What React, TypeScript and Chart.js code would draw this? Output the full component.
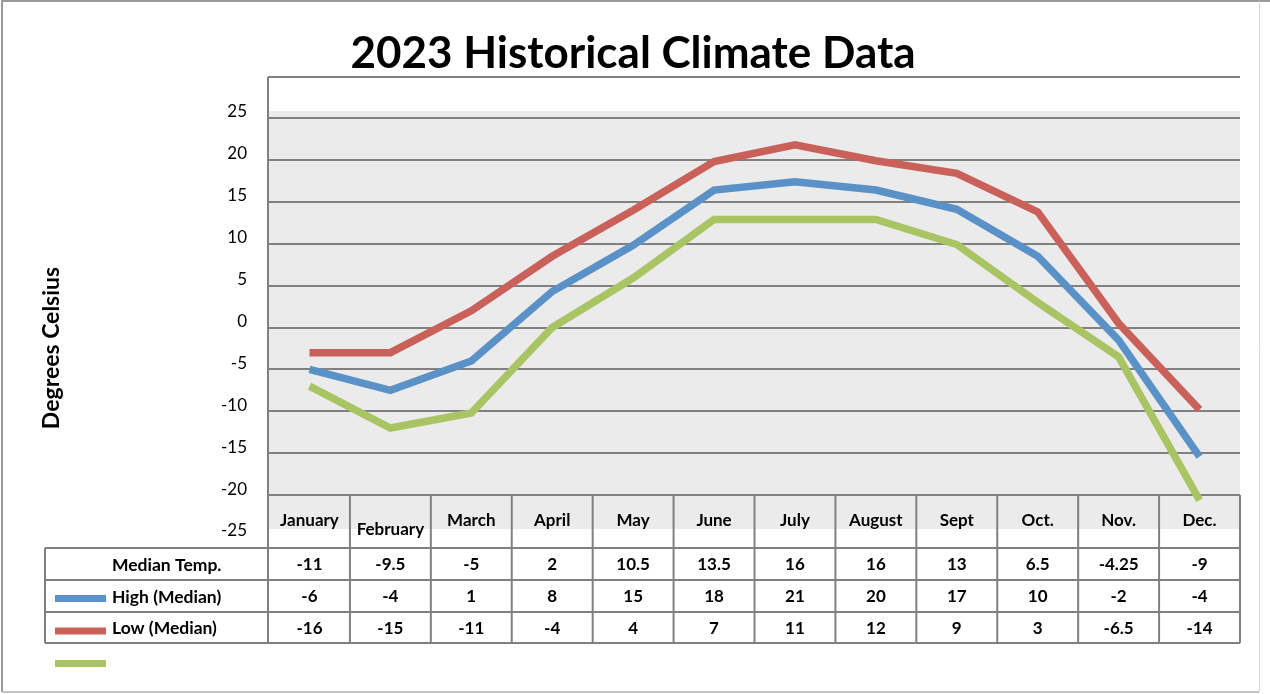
import React, { useEffect, useRef } from "react";
import { Chart, registerables } from "chart.js";

Chart.register(...registerables);

// ---------- data ----------
const MONTHS = ["January", "February", "March", "April", "May", "June", "July", "August", "Sept", "Oct.", "Nov.", "Dec."];

// plotted lines
const BLUE_LINE = [-5, -7.5, -4, 4.3, 9.8, 16.4, 17.4, 16.4, 14.1, 8.5, -1.5, -15.4];
const RED_LINE = [-3, -3, 2, 8.5, 14, 19.8, 21.8, 19.9, 18.4, 13.8, 0.5, -9.8];
const GREEN_LINE = [-7, -12, -10.2, 0, 5.9, 12.9, 12.9, 12.9, 9.9, 3, -3.5, -20.6];

// data table rows
const ROW_LABELS = ["Median Temp.", "High (Median)", "Low (Median)"];
const MEDIAN_TEMP = ["-11", "-9.5", "-5", "2", "10.5", "13.5", "16", "16", "13", "6.5", "-4.25", "-9"];
const HIGH_MEDIAN = ["-6", "-4", "1", "8", "15", "18", "21", "20", "17", "10", "-2", "-4"];
const LOW_MEDIAN = ["-16", "-15", "-11", "-4", "4", "7", "11", "12", "9", "3", "-6.5", "-14"];

const Y_MIN = -25;
const Y_MAX = 25;
const Y_STEP = 5;

const TITLE = "2023 Historical Climate Data";
const Y_TITLE = "Degrees Celsius";

// ---------- styles ----------
const FONT = "Lato, 'Open Sans', sans-serif";
const BLUE = "#5a91c6";
const RED = "#c9615a";
const GREEN = "#a8c463";
const GRID = "#808080";
const PLOT_BG = "#ebebeb";

export default function App() {
  const ref = useRef<HTMLCanvasElement | null>(null);

  useEffect(() => {
    document.body.style.margin = "0";
    const canvas = ref.current;
    if (!canvas) return;

    const decor = {
      id: "decor",
      beforeDraw(chart: any) {
        const ctx = chart.ctx as CanvasRenderingContext2D;
        const W = chart.width;
        const H = chart.height;
        const area = chart.chartArea;
        ctx.save();
        ctx.fillStyle = "#ffffff";
        ctx.fillRect(0, 0, W, H);

        // outer frame
        ctx.lineWidth = 2;
        ctx.strokeStyle = "#9a9a9a";
        ctx.beginPath();
        ctx.moveTo(2, H - 2);
        ctx.lineTo(2, 1);
        ctx.lineTo(W, 1);
        ctx.stroke();
        ctx.strokeStyle = "#c4c4c4";
        ctx.beginPath();
        ctx.moveTo(2, H - 2);
        ctx.lineTo(1259, H - 2);
        ctx.stroke();
        ctx.lineWidth = 1;
        ctx.strokeStyle = "#d8d8d8";
        ctx.beginPath();
        ctx.moveTo(1259.5, 1);
        ctx.lineTo(1259.5, H - 2);
        ctx.stroke();

        // title
        ctx.fillStyle = "#000";
        ctx.font = `bold 44px ${FONT}`;
        ctx.textAlign = "center";
        ctx.textBaseline = "alphabetic";
        ctx.fillText(TITLE, 633, 68);

        // plot background
        ctx.fillStyle = PLOT_BG;
        ctx.fillRect(area.left, 111, area.right - area.left, 529 - 111);

        // top border line of plot
        ctx.strokeStyle = GRID;
        ctx.lineWidth = 2;
        ctx.beginPath();
        ctx.moveTo(area.left - 1, 77);
        ctx.lineTo(area.right, 77);
        ctx.stroke();
        ctx.restore();
      },
      beforeDatasetsDraw(chart: any) {
        const ctx = chart.ctx as CanvasRenderingContext2D;
        const area = chart.chartArea;
        const xs = chart.scales.x;
        const ys = chart.scales.y;
        const n = MONTHS.length;
        const step = (area.right - area.left) / n;
        const headerTop = ys.getPixelForValue(-20);
        const tableTop = 548;
        const rowH = [548, 580, 612, 643];
        const tableLeft = 45;

        ctx.save();
        // white strip under header cells
        ctx.fillStyle = "#fff";
        ctx.fillRect(area.left, 529, area.right - area.left, tableTop - 529);

        ctx.strokeStyle = GRID;
        ctx.lineWidth = 2;
        // vertical axis line
        ctx.beginPath();
        ctx.moveTo(area.left - 1, 77);
        ctx.lineTo(area.left - 1, rowH[3]);
        ctx.stroke();
        // column dividers
        for (let i = 1; i <= n; i++) {
          const x = xs.getPixelForValue(i - 1) + step / 2;
          ctx.beginPath();
          ctx.moveTo(x, headerTop);
          ctx.lineTo(x, rowH[3]);
          ctx.stroke();
        }
        // horizontal table lines
        for (const y of rowH) {
          ctx.beginPath();
          ctx.moveTo(tableLeft, y);
          ctx.lineTo(area.right, y);
          ctx.stroke();
        }
        ctx.beginPath();
        ctx.moveTo(tableLeft, rowH[0]);
        ctx.lineTo(tableLeft, rowH[3]);
        ctx.stroke();

        // month labels
        ctx.fillStyle = "#000";
        ctx.font = `bold 17px ${FONT}`;
        ctx.textAlign = "center";
        ctx.textBaseline = "middle";
        MONTHS.forEach((m, i) => {
          const x = xs.getPixelForValue(i);
          ctx.fillText(m, x, i === 1 ? 530 : 521);
        });

        // table values
        const rows = [MEDIAN_TEMP, HIGH_MEDIAN, LOW_MEDIAN];
        rows.forEach((row, r) => {
          const cy = (rowH[r] + rowH[r + 1]) / 2 + 1;
          row.forEach((v, i) => {
            ctx.fillText(v, xs.getPixelForValue(i), cy);
          });
        });

        // row labels
        ctx.textAlign = "left";
        ctx.font = `bold 17.5px ${FONT}`;
        ROW_LABELS.forEach((lab, r) => {
          const cy = (rowH[r] + rowH[r + 1]) / 2 + 1;
          ctx.fillText(lab, 112, cy);
        });

        // legend keys
        const keys = [
          { c: BLUE, y: 598.5 },
          { c: RED, y: 631 },
          { c: GREEN, y: 663.5 },
        ];
        for (const k of keys) {
          ctx.fillStyle = k.c;
          ctx.fillRect(55, k.y - 3.5, 51, 7);
        }

        // y axis title
        ctx.save();
        ctx.translate(52, 348);
        ctx.rotate(-Math.PI / 2);
        ctx.fillStyle = "#000";
        ctx.font = `bold 23px ${FONT}`;
        ctx.textAlign = "center";
        ctx.textBaseline = "middle";
        ctx.fillText(Y_TITLE, 0, 0);
        ctx.restore();

        ctx.restore();
      },
    };

    const chart = new Chart(canvas, {
      type: "line",
      data: {
        labels: MONTHS,
        datasets: [
          { label: "High", data: BLUE_LINE, borderColor: BLUE, order: 2 },
          { label: "Low", data: RED_LINE, borderColor: RED, order: 1 },
          { label: "Median", data: GREEN_LINE, borderColor: GREEN, order: 3 },
        ].map((d) => ({
          ...d,
          borderWidth: 7.5,
          pointRadius: 0,
          pointHoverRadius: 0,
          tension: 0,
          fill: false,
          borderCapStyle: "butt" as const,
        })),
      },
      options: {
        responsive: false,
        animation: false,
        events: [],
        layout: { padding: { top: 118, right: 30, bottom: 157, left: 0 } },
        plugins: {
          legend: { display: false },
          title: { display: false },
          tooltip: { enabled: false },
        },
        scales: {
          x: { display: false, offset: true },
          y: {
            min: Y_MIN,
            max: Y_MAX,
            afterFit: (s: any) => {
              s.width = 269;
            },
            ticks: {
              stepSize: Y_STEP,
              padding: 22,
              labelOffset: -6,
              color: "#000",
              font: { family: FONT, size: 17 },
            },
            grid: {
              color: (c: any) => (c.tick && c.tick.value === Y_MIN ? "rgba(0,0,0,0)" : GRID),
              lineWidth: 2,
              drawTicks: false,
            },
            border: { display: false },
          },
        },
      },
      plugins: [decor],
    });

    return () => chart.destroy();
  }, []);

  return (
    <div style={{ width: 1270, height: 694 }}>
      <canvas ref={ref} width={1270} height={694} style={{ display: "block" }} />
    </div>
  );
}
